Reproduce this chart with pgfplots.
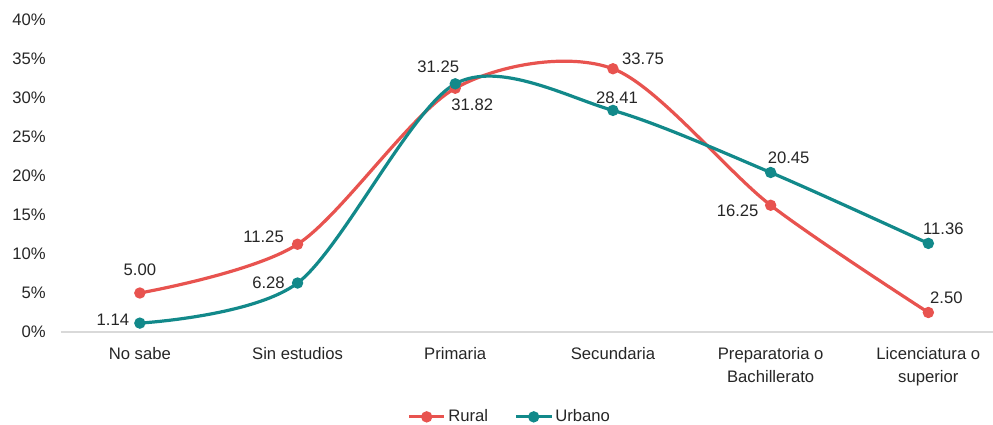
\documentclass[border=0pt]{standalone}
\usepackage{pgfplots}
\pgfplotsset{compat=1.18}
\usepackage{pgfplotstable}
\usepackage{fontspec}
\setmainfont{Liberation Sans}

\definecolor{rural}{HTML}{E8534F}
\definecolor{urbano}{HTML}{12898A}
\definecolor{axisgray}{HTML}{D9D9D9}

% x, value, label offset (dx, dy in pt)
\pgfplotstableread[col sep=comma]{
x,y,dx,dy
0,5.00,0,17.25
1,11.25,-25.5,5.25
2,31.25,-12.75,15.75
3,33.75,22.5,7.5
4,16.25,-24.75,-4.5
5,2.50,13.5,11.25
}\ruraldata

\pgfplotstableread[col sep=comma]{
x,y,dx,dy
0,1.14,-20.25,2.25
1,6.28,-21.75,0
2,31.82,12.75,-15.75
3,28.41,3,9.75
4,20.45,13.5,11.25
5,11.36,11.25,11.25
}\urbanodata

\begin{document}
\begin{tikzpicture}[font=\fontsize{12.5}{17.5}\selectfont]
\path[use as bounding box] (-45.75pt,-69.75pt) rectangle (699pt,249pt);
\begin{axis}[
    scale only axis,
    width=699pt, height=234pt,
    xmin=-0.5, xmax=5.41,
    ymin=0, ymax=40,
    ytick={0,5,...,40},
    yticklabel={\pgfmathprintnumber{\tick}\%},
    /pgf/number format/assume math mode=true,
    xtick={0,...,5},
    xticklabels={No sabe, Sin estudios, Primaria, Secundaria,
        {Preparatoria o\\Bachillerato}, {Licenciatura o\\superior}},
    xticklabel style={align=center, yshift=-8pt},
    yticklabel style={xshift=-8pt, anchor=east},
    major tick length=0pt,
    axis x line*=bottom,
    axis y line*=left,
    y axis line style={draw=none},
    x axis line style={draw=axisgray, line width=1pt},
    tick label style={text=black!85},
    legend columns=2,
    legend style={at={(0.482,-0.272)}, anchor=center, draw=none,
        font=\fontsize{12.5}{14}\selectfont, text=black!85,
        /tikz/every even column/.append style={column sep=18pt}},
    legend image code/.code={\draw[#1, mark repeat=2, mark phase=2]
        plot coordinates {(0pt,0pt) (13pt,0pt) (26pt,0pt)};},
]
\addplot[rural, line width=2.4pt, smooth, tension=0.5,
    mark=*, mark size=3pt, mark options={solid},
    nodes near coords, point meta=explicit symbolic,
    visualization depends on={\thisrow{dx} \as \ddx},
    visualization depends on={\thisrow{dy} \as \ddy},
    every node near coord/.append style={anchor=center, inner sep=0pt,
        xshift=\ddx pt, yshift=\ddy pt, text=black!85,
        font=\fontsize{12.5}{14}\selectfont}]
    table[x=x, y=y, meta=y] {\ruraldata};
\addlegendentry{Rural}
\addplot[urbano, line width=2.4pt, smooth, tension=0.5,
    mark=*, mark size=3pt, mark options={solid},
    nodes near coords, point meta=explicit symbolic,
    visualization depends on={\thisrow{dx} \as \ddx},
    visualization depends on={\thisrow{dy} \as \ddy},
    every node near coord/.append style={anchor=center, inner sep=0pt,
        xshift=\ddx pt, yshift=\ddy pt, text=black!85,
        font=\fontsize{12.5}{14}\selectfont}]
    table[x=x, y=y, meta=y] {\urbanodata};
\addlegendentry{Urbano}
\end{axis}
\end{tikzpicture}
\end{document}
